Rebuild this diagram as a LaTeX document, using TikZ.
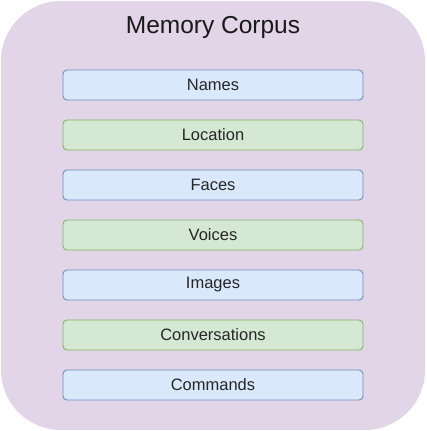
\documentclass[tikz,border=0pt]{standalone}
\usepackage{fontspec}
\setmainfont{Liberation Sans}
\definecolor{outerfill}{HTML}{E1D5E7}
\definecolor{bluefill}{HTML}{DAE8FC}
\definecolor{blueline}{HTML}{6C8EBF}
\definecolor{greenfill}{HTML}{D5E8D4}
\definecolor{greenline}{HTML}{82B366}
\tikzset{
  itembox/.style={rounded corners=4pt, line width=0.9pt, minimum width=300pt, minimum height=30pt, inner sep=0pt, font=\fontsize{16.5}{18}\selectfont, text=black!85},
  bluebox/.style={itembox, fill=bluefill, draw=blueline},
  greenbox/.style={itembox, fill=greenfill, draw=greenline}
}
\begin{document}
\begin{tikzpicture}[x=1pt,y=-1pt]
\useasboundingbox (0,0) rectangle (426,431);
\fill[outerfill, rounded corners=60pt] (1,1) rectangle (425,430);
\node[font=\fontsize{24.5}{28}\selectfont, text=black!90] (title) at (213,27) {Memory Corpus};
\node[bluebox] (names) at (213,85) {Names};
\node[greenbox] (location) at (213,135) {Location};
\node[bluebox] (faces) at (213,185) {Faces};
\node[greenbox] (voices) at (213,235) {Voices};
\node[bluebox] (images) at (213,285) {Images};
\node[greenbox] (conv) at (213,335) {Conversations};
\node[bluebox] (commands) at (213,385) {Commands};
\end{tikzpicture}
\end{document}
